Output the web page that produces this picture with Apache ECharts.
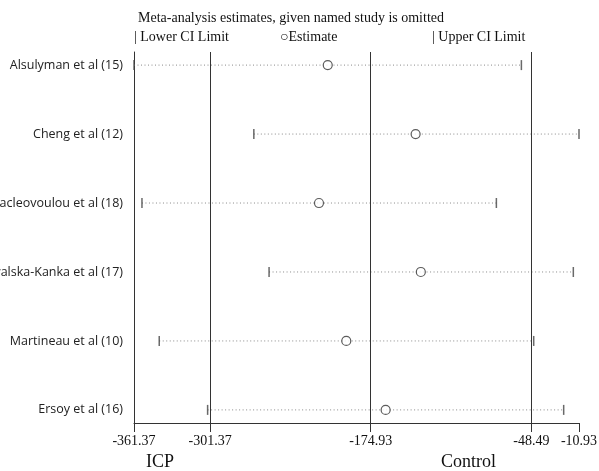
<!DOCTYPE html>
<html>
<head>
<meta charset="utf-8">
<script src="https://cdn.jsdelivr.net/npm/echarts@6/dist/echarts.min.js"></script>
<style>
  html, body { margin: 0; padding: 0; background: #fff; }
  #chart { width: 599px; height: 471px; }
</style>
</head>
<body>
<div id="chart"></div>
<script>
// studies, top to bottom
const studies = ['Alsulyman et al (15)', 'Cheng et al (12)', 'Papacleovoulou et al (18)',
  'Kowalska-Kanka et al (17)', 'Martineau et al (10)', 'Ersoy et al (16)']
// estimate when the named study is left out, with CI limits
const estimate = [-208.8, -139.6, -215.7, -135.5, -194.2, -163.2]
const lowerCI = [-361.37, -267.0, -355.1, -255.0, -341.5, -303.4]
const upperCI = [-56.3, -10.93, -76.0, -15.4, -46.6, -23.0]
// x ticks: min, lower CI, estimate, upper CI, max
const xTicks = [-361.37, -301.37, -174.93, -48.49, -10.93]
const refLines = [-301.37, -174.93, -48.49]

const serif = '"Liberation Serif", "Times New Roman", serif'
const dark = '#333'

const ciLines = studies.map((s, i) => ({
  type: 'line',
  data: [[lowerCI[i], i], [upperCI[i], i]],
  symbol: 'none',
  silent: true,
  lineStyle: { color: '#8a8a8a', width: 1, type: [1, 2.5] },
  z: 1
}))

const option = {
  animation: false,
  backgroundColor: '#fff',
  grid: { left: 134, right: 20, top: 52, bottom: 48, outerBoundsMode: 'none', containLabel: false },
  xAxis: {
    type: 'value',
    min: -361.37,
    max: -10.93,
    axisLine: { show: true, onZero: false, lineStyle: { color: dark, width: 1 } },
    axisTick: { show: true, customValues: xTicks, length: 9, lineStyle: { color: dark } },
    axisLabel: {
      customValues: xTicks,
      formatter: v => v.toFixed(2),
      fontFamily: serif, fontSize: 14, color: '#111', margin: 11
    },
    splitLine: { show: false }
  },
  yAxis: {
    type: 'value',
    inverse: true,
    min: -0.19,
    max: 5.19,
    axisLine: { show: true, onZero: false, lineStyle: { color: dark, width: 1 } },
    axisTick: { show: false },
    axisLabel: {
      customValues: [0, 1, 2, 3, 4, 5],
      formatter: v => studies[v],
      fontFamily: '"Open Sans", sans-serif', fontSize: 12.5, color: '#222', margin: 11
    },
    splitLine: { show: false }
  },
  graphic: [
    { type: 'text', left: 138, top: 11,
      style: { text: 'Meta-analysis estimates, given named study is omitted', font: '14px ' + serif, fill: '#111' } },
    { type: 'text', left: 134, top: 30,
      style: { text: '| Lower CI Limit', font: '14px ' + serif, fill: '#111' } },
    { type: 'text', left: 280, top: 30,
      style: { text: '\u25CBEstimate', font: '14px ' + serif, fill: '#111' } },
    { type: 'text', left: 432, top: 30,
      style: { text: '| Upper CI Limit', font: '14px ' + serif, fill: '#111' } },
    { type: 'text', left: 146, top: 453,
      style: { text: 'ICP', font: '18px ' + serif, fill: '#111' } },
    { type: 'text', left: 441, top: 453,
      style: { text: 'Control', font: '18px ' + serif, fill: '#111' } }
  ],
  series: [
    ...ciLines,
    {
      name: 'Lower CI Limit',
      type: 'scatter',
      data: studies.map((s, i) => [lowerCI[i], i]),
      symbol: 'rect',
      symbolSize: [1.5, 10],
      itemStyle: { color: '#444' },
      z: 3,
      markLine: {
        silent: true,
        symbol: 'none',
        label: { show: false },
        lineStyle: { color: dark, width: 1, type: 'solid' },
        data: refLines.map(v => ({ xAxis: v }))
      }
    },
    {
      name: 'Upper CI Limit',
      type: 'scatter',
      data: studies.map((s, i) => [upperCI[i], i]),
      symbol: 'rect',
      symbolSize: [1.5, 10],
      itemStyle: { color: '#444' },
      z: 3
    },
    {
      name: 'Estimate',
      type: 'scatter',
      data: studies.map((s, i) => [estimate[i], i]),
      symbol: 'circle',
      symbolSize: 9,
      itemStyle: { color: '#fff', borderColor: '#333', borderWidth: 1.2 },
      z: 4
    }
  ]
}

const chart = echarts.init(document.getElementById('chart'))
chart.setOption(option)
</script>
</body>
</html>
